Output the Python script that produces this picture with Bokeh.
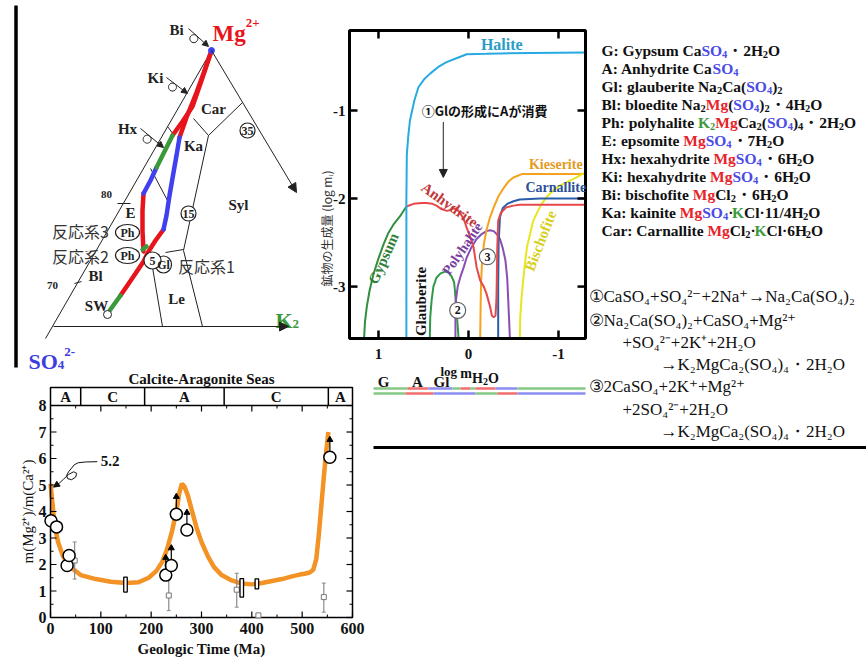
import math
from bokeh.plotting import figure
from bokeh.models import Range1d, Arrow, NormalHead, ColumnDataSource
from bokeh.embed import file_html
from bokeh.resources import INLINE
from bokeh.core.properties import value

SERIF = "Liberation Serif"
CJK = "Noto Sans CJK JP"

# ===================== DATA: evaporation model (log m_H2O vs log m_i) =====================
LOGM_TICKS = [1, 0, -1]
LOGM_TICK_LABELS = ["1", "0", "-1"]
LOGMI_TICKS = [-1, -2, -3]
LOGMI_TICK_LABELS = ["-1", "-2", "-3"]
HALITE_X = [0.69, 0.69, 0.685, 0.67, 0.65, 0.60, 0.556, 0.49, 0.426, 0.33, 0.244, 0.12, 0.02, -0.2, -0.36, -0.7, -1.30]
HALITE_Y = [-3.6, -2.0, -1.5, -1.3, -1.11, -0.88, -0.735, -0.64, -0.58, -0.5, -0.45, -0.4, -0.36, -0.355, -0.35, -0.345, -0.34]
GYPSUM_X = [1.16, 1.15, 1.13, 1.10, 1.056, 1.0, 0.944, 0.89, 0.83, 0.76, 0.69]
GYPSUM_Y = [-3.59, -3.4, -3.23, -3.05, -2.86, -2.68, -2.52, -2.39, -2.29, -2.2, -2.09]
ANHYD_X = [0.69, 0.61, 0.52, 0.47, 0.40, 0.356, 0.30, 0.24, 0.20, 0.167, 0.12, 0.09, 0.05, 0.02, -0.02, -0.056,
           -0.09, -0.13, -0.17, -0.2, -0.24, -0.26, -0.28, -0.30, -0.31, -0.315, -0.32, -0.33, -0.36, -0.42, -0.5,
           -0.57, -0.8, -1.30]
ANHYD_Y = [-2.09, -2.06, -2.05, -2.05, -2.06, -2.08, -2.12, -2.14, -2.13, -2.11, -2.13, -2.17, -2.24, -2.33, -2.44,
           -2.55, -2.78, -2.93, -3.0, -3.08, -3.23, -3.33, -3.35, -3.33, -3.16, -2.9, -2.55, -2.25, -2.16, -2.1,
           -2.08, -2.07, -2.07, -2.07]
CARN_X = [-0.33, -0.33, -0.335, -0.35, -0.38, -0.43, -0.5, -0.57, -0.8, -1.30]
CARN_Y = [-3.59, -3.0, -2.5, -2.21, -2.11, -2.06, -2.03, -2.01, -2.0, -2.0]
KIES_X = [-0.13, -0.135, -0.14, -0.15, -0.17, -0.2, -0.24, -0.28, -0.33, -0.39, -0.45, -0.5, -0.6, -0.8, -1.30]
KIES_Y = [-3.59, -3.2, -2.95, -2.74, -2.52, -2.36, -2.21, -2.1, -1.98, -1.88, -1.8, -1.76, -1.72, -1.72, -1.72]
BISCH_X = [-0.57, -0.575, -0.59, -0.62, -0.65, -0.72, -0.8, -0.87, -0.95, -1.02, -1.1, -1.2, -1.30]
BISCH_Y = [-3.59, -3.35, -3.12, -2.8, -2.55, -2.25, -2.08, -1.98, -1.9, -1.85, -1.81, -1.76, -1.7]
GLAUB_X = [0.43, 0.425, 0.41, 0.39, 0.356, 0.31, 0.26, 0.22, 0.19, 0.16, 0.15, 0.14, 0.13, 0.12, 0.11]
GLAUB_Y = [-3.59, -3.35, -3.16, -3.0, -2.9, -2.85, -2.83, -2.84, -2.88, -2.95, -3.05, -3.2, -3.31, -3.45, -3.59]
POLY_X = [0.145, 0.145, 0.14, 0.12, 0.09, 0.05, 0.02, -0.03, -0.09, -0.15, -0.2, -0.24, -0.28, -0.32, -0.35,
          -0.38, -0.41, -0.43, -0.44, -0.45, -0.46]
POLY_Y = [-3.59, -3.35, -3.16, -3.0, -2.89, -2.77, -2.67, -2.56, -2.46, -2.4, -2.37, -2.36, -2.37, -2.41, -2.46,
          -2.56, -2.7, -2.9, -3.12, -3.35, -3.59]
# mineral sequence bars below the chart (log m_H2O breakpoints)
SEQ1_BREAKS = [1.055, 0.678, 0.444, 0.178, 0.089, -0.022, -0.078, -0.30, -0.544, -1.30]
SEQ1_KEYS = ["G", "A", "Gl", "G", "A", "G", "A", "Gl", "G"]
SEQ2_BREAKS = [1.055, 0.70, 0.389, -0.078, -0.322, -0.544, -1.30]
SEQ2_KEYS = ["G", "A", "Gl", "G", "A", "Gl"]
SEQ_LABELS = ["G", "A", "Gl"]
SEQ_LABEL_X = [0.944, 0.567, 0.30]

# ===================== DATA: Mg/Ca of seawater =====================
AGE_TICKS = [0, 100, 200, 300, 400, 500, 600]
AGE_TICK_LABELS = ["0", "100", "200", "300", "400", "500", "600"]
RATIO_TICKS = [0, 1, 2, 3, 4, 5, 6, 7, 8]
RATIO_TICK_LABELS = ["0", "1", "2", "3", "4", "5", "6", "7", "8"]
AGE_MA = [0, 4, 8, 15, 25, 40, 60, 90, 120, 150, 175, 195, 210, 222, 232, 242, 250, 256, 261, 266, 273, 280, 290,
          300, 313, 325, 340, 360, 380, 400, 420, 440, 460, 480, 495, 505, 515, 522, 528, 533, 538, 543, 548, 552]
MGCA = [5.05, 4.3, 3.5, 2.85, 2.3, 1.9, 1.6, 1.45, 1.35, 1.3, 1.33, 1.5, 1.75, 2.1, 2.6, 3.3, 4.0, 4.7, 5.05, 4.95,
        4.6, 4.1, 3.4, 2.85, 2.3, 1.9, 1.6, 1.4, 1.28, 1.25, 1.3, 1.38, 1.45, 1.55, 1.62, 1.65, 1.7, 1.8, 2.2, 3.1,
        4.2, 5.3, 6.3, 7.0]
CIRCLE_AGE = [1, 12, 33, 37, 229, 240, 250, 271, 555]
CIRCLE_RATIO = [3.65, 3.42, 1.96, 2.34, 1.6, 1.96, 3.9, 3.3, 6.05]
CIRCLE_MIN_ONLY = [0, 0, 0, 0, 1, 1, 1, 1, 1]
ERR_AGE = [48, 235, 370, 543]
ERR_RATIO = [2.15, 0.83, 1.05, 0.77]
ERR_LO = [1.45, 0.26, 0.39, 0.2]
ERR_HI = [2.85, 1.58, 1.67, 1.3]
LONE_AGE = [413]
LONE_RATIO = [0.08]
FI_AGE = [149, 380, 410]
FI_LO = [0.96, 0.77, 1.08]
FI_HI = [1.52, 1.47, 1.46]
SEA_BORDERS = [0, 60, 187, 345, 552, 600]
SEA_LABELS = ["A", "C", "A", "C", "A"]
NOTE_VALUE = "5.2"
NOTE_X = [93, 70, 55, 47, 42, 36, 32, 34, 42, 50, 52, 46, 36, 26, 18]
NOTE_Y = [5.88, 5.87, 5.84, 5.76, 5.64, 5.5, 5.36, 5.24, 5.2, 5.3, 5.44, 5.5, 5.4, 5.22, 5.08]

# ===================== DATA: ternary diagram (drawing coordinates) =====================
TERN_LINES = [
    [(45, 338), (211, 50)],
    [(208, 135), (183, 250)],
    [(193, 118), (208, 135)],
    [(208, 135), (242, 102)],
    [(165, 252), (183, 249)],
    [(152, 267), (162, 326)],
    [(183, 250), (202, 326)],
    [(167, 126), (173, 134)],
    [(150, 168), (167, 200)],
    [(117, 203), (130, 203)],
    [(74, 283), (81, 281)],
]
PATH_GREEN = [[(107, 313), (120, 295)], [(142, 249), (146, 246)], [(156, 167), (172, 135)]]
PATH_RED = [[(120, 295), (135, 273), (143, 261), (148, 251), (155, 240), (163, 229)],
            [(179, 137), (186, 117), (196, 92), (203, 73), (210, 53)],
            [(143, 251), (142, 230), (142, 210), (143, 193)],
            [(172, 135), (182, 121), (192, 106), (201, 80), (210, 53)]]
PATH_BLUE = [[(163, 229), (166, 215), (169, 195), (173, 172), (176, 155), (179, 137)],
             [(143, 193), (150, 180), (156, 167)]]
FIELD_NAMES = ["Bi", "Ki", "Car", "Hx", "Ka", "Syl", "E", "Bl", "Le", "SW"]
FIELD_X = [176, 155, 213, 127, 193, 238, 130, 95, 176, 96]
FIELD_Y = [29, 77, 108, 128, 145, 204, 212, 275, 298, 305]
CIRCLED = ["35", "15", "Ph", "Ph", "Gl", "5"]
CIRCLED_X = [247, 188, 127, 127, 163, 152]
CIRCLED_Y = [130, 213, 232, 255, 264, 260]
CIRCLED_W = [15, 15, 24, 24, 16, 17]
CIRCLED_H = [15, 15, 16, 16, 17, 17]
CURLS = [((188, 28), (208, 46)), ((166, 77), (187, 93)), ((140, 128), (163, 147))]
SYSTEMS = ["反応系3", "反応系2", "反応系1"]
SYSTEM_X = [80, 80, 206]
SYSTEM_Y = [230, 255, 265]

# ===================== DATA: text panels =====================
LEGEND = [
    [("G: Gypsum Ca", "k", "n"), ("SO", "b", "n"), ("4", "b", "sub"), ("・2H", "k", "n"), ("2", "k", "sub"), ("O", "k", "n")],
    [("A: Anhydrite Ca", "k", "n"), ("SO", "b", "n"), ("4", "b", "sub")],
    [("Gl: glauberite Na", "k", "n"), ("2", "k", "sub"), ("Ca(", "k", "n"), ("SO", "b", "n"), ("4", "b", "sub"),
     (")", "k", "n"), ("2", "k", "sub")],
    [("Bl: bloedite Na", "k", "n"), ("2", "k", "sub"), ("Mg", "r", "n"), ("(", "k", "n"), ("SO", "b", "n"),
     ("4", "b", "sub"), (")", "k", "n"), ("2", "k", "sub"), ("・4H", "k", "n"), ("2", "k", "sub"), ("O", "k", "n")],
    [("Ph: polyhalite ", "k", "n"), ("K", "g", "n"), ("2", "g", "sub"), ("Mg", "r", "n"), ("Ca", "k", "n"),
     ("2", "k", "sub"), ("(", "k", "n"), ("SO", "b", "n"), ("4", "b", "sub"), (")", "k", "n"), ("4", "k", "sub"),
     ("・2H", "k", "n"), ("2", "k", "sub"), ("O", "k", "n")],
    [("E: epsomite ", "k", "n"), ("Mg", "r", "n"), ("SO", "b", "n"), ("4", "b", "sub"), ("・7H", "k", "n"),
     ("2", "k", "sub"), ("O", "k", "n")],
    [("Hx: hexahydrite ", "k", "n"), ("Mg", "r", "n"), ("SO", "b", "n"), ("4", "b", "sub"), ("・6H", "k", "n"),
     ("2", "k", "sub"), ("O", "k", "n")],
    [("Ki: hexahydrite ", "k", "n"), ("Mg", "r", "n"), ("SO", "b", "n"), ("4", "b", "sub"), ("・6H", "k", "n"),
     ("2", "k", "sub"), ("O", "k", "n")],
    [("Bi: bischofite ", "k", "n"), ("Mg", "r", "n"), ("Cl", "k", "n"), ("2", "k", "sub"), ("・6H", "k", "n"),
     ("2", "k", "sub"), ("O", "k", "n")],
    [("Ka: kainite ", "k", "n"), ("Mg", "r", "n"), ("SO", "b", "n"), ("4", "b", "sub"), ("·", "k", "n"),
     ("K", "g", "n"), ("Cl·11/4H", "k", "n"), ("2", "k", "sub"), ("O", "k", "n")],
    [("Car: Carnallite ", "k", "n"), ("Mg", "r", "n"), ("Cl", "k", "n"), ("2", "k", "sub"), ("·", "k", "n"),
     ("K", "g", "n"), ("Cl·6H", "k", "n"), ("2", "k", "sub"), ("O", "k", "n")],
]
REACTIONS = ["①CaSO₄+SO₄²⁻+2Na⁺→Na₂Ca(SO₄)₂",
             "②Na₂Ca(SO₄)₂+CaSO₄+Mg²⁺",
             "+SO₄²⁻+2K⁺+2H₂O",
             "→K₂MgCa₂(SO₄)₄・2H₂O",
             "③2CaSO₄+2K⁺+Mg²⁺",
             "+2SO₄²⁻+2H₂O",
             "→K₂MgCa₂(SO₄)₄・2H₂O"]
REACTION_INDENT = [588, 588, 622, 660, 588, 622, 660]
REACTION_Y = [290, 314, 336, 358, 380, 403, 425]

# ===================== styles / geometry =====================
COL = {"k": "#111111", "r": "#e8232a", "b": "#4b4be6", "g": "#3c9a3c"}
SEQ_COL = {"G": "#86c986", "A": "#f26d6d", "Gl": "#8c8cf0"}
W, H = 866, 660
# plot boxes on the page (pixel left, right, top, bottom) and the data limits they show
MID_BOX = (349, 585, 30, 338)
MID_XR = (1.322, -1.30)
MID_YR = (-3.59, -0.09)
BOT_BOX = (50, 352, 387, 617)
BOT_XR = (0, 600)
BOT_YR = (0, 8.68)

TB = dict(zip("abcdefghijklmnopqrstuvwxyz",
              [500, 556, 444, 556, 444, 333, 500, 556, 278, 333, 556, 278, 833, 556, 500, 556, 556, 444, 389, 333,
               556, 500, 722, 500, 500, 444]))
TB.update(zip("ABCDEFGHIJKLMNOPQRSTUVWXYZ",
              [722, 667, 722, 722, 667, 611, 778, 778, 389, 500, 778, 667, 944, 722, 778, 611, 778, 722, 556, 667,
               722, 722, 1000, 722, 722, 667]))
TB.update({c: 500 for c in "0123456789"})
TB.update({" ": 250, ":": 333, "(": 333, ")": 333, "/": 278, "-": 333, "·": 250, "・": 1000, "+": 570})


def tw(s, size):
    return sum(TB.get(c, 500) for c in s) * size / 1000.0


def txt(p, xs, ys, texts, size, color="black", font=SERIF, style="bold", align="center",
        baseline="middle", angle=0.0, xr=None, yr=None):
    src = ColumnDataSource(dict(x=list(xs), y=list(ys), text=list(texts)))
    kw = {}
    if xr:
        kw["x_range_name"] = xr
    if yr:
        kw["y_range_name"] = yr
    p.text(x="x", y="y", text="text", source=src, text_font=value(font), text_font_size=f"{size}px",
           text_font_style=style, text_color=color, text_align=align, text_baseline=baseline, angle=angle, **kw)


def rich(p, x0, y, segs, size=15.5, sub=10.5):
    x = x0
    groups = {}
    for text, ck, kind in segs:
        s = size if kind == "n" else sub
        yy = y + (4 if kind == "sub" else 0)
        g = groups.setdefault((ck, s), ([], [], []))
        g[0].append(x)
        g[1].append(yy)
        g[2].append(text)
        x += tw(text, s)
    for (ck, s), (xs, ys, ts) in groups.items():
        txt(p, xs, ys, ts, s, color=COL[ck], align="left", baseline="alphabetic")


def curl_points(a, b, r):
    (x0, y0), (x1, y1) = a, b
    dx, dy = x1 - x0, y1 - y0
    L = math.hypot(dx, dy)
    ux, uy = dx / L, dy / L
    nx, ny = -uy, ux
    mx, my = x0 + dx * 0.4, y0 + dy * 0.4
    xs, ys = [x0, mx], [y0, my]
    for k in range(1, 25):
        t = 2 * math.pi * k / 24
        xs.append(mx + r * (math.sin(t) * ux + (1 - math.cos(t)) * nx))
        ys.append(my + r * (math.sin(t) * uy + (1 - math.cos(t)) * ny))
    xs.append(x1)
    ys.append(y1)
    return xs, ys


def head(size=8, c="#222222"):
    return NormalHead(size=size, fill_color=c, line_color=c)


def page_range(p0, p1, v0, v1, lo, hi):
    """Range whose scale puts value v0 at page pixel p0 and v1 at p1 on a page axis spanning lo..hi."""
    k = (v1 - v0) / (p1 - p0)
    return Range1d(v0 + (lo - p0) * k, v0 + (hi - p0) * k)


# ===================== single page canvas =====================
p = figure(width=W, height=H, x_range=Range1d(0, W), y_range=Range1d(H, 0), output_backend="svg",
           toolbar_location=None, x_axis_location=None, y_axis_location=None,
           min_border=0, min_border_left=0, min_border_right=0, min_border_top=0, min_border_bottom=0)
p.grid.visible = False
p.outline_line_color = None
p.background_fill_color = "white"
p.border_fill_color = "white"
ml, mr, mt, mb = MID_BOX
bl, br, bt, bb = BOT_BOX
p.extra_x_ranges = {"mh2o": page_range(ml, mr, MID_XR[0], MID_XR[1], 0, W),
                    "age": page_range(bl, br, BOT_XR[0], BOT_XR[1], 0, W)}
# y pixels grow downwards; ranges run from page bottom (H) to page top (0)
p.extra_y_ranges = {"logmi": page_range(mb, mt, MID_YR[0], MID_YR[1], H, 0),
                    "ratio": page_range(bb, bt, BOT_YR[0], BOT_YR[1], H, 0)}
M = dict(x_range_name="mh2o", y_range_name="logmi")
B = dict(x_range_name="age", y_range_name="ratio")
mpx_x = (MID_XR[0] - MID_XR[1]) / (mr - ml)   # data per pixel
mpx_y = (MID_YR[1] - MID_YR[0]) / (mb - mt)
bpx_x = (BOT_XR[1] - BOT_XR[0]) / (br - bl)
bpx_y = (BOT_YR[1] - BOT_YR[0]) / (bb - bt)

# --- ternary diagram
p.line([15.5, 15.5], [5, 367], line_color="black", line_width=3.5)
p.multi_line([[q[0] for q in l] for l in TERN_LINES], [[q[1] for q in l] for l in TERN_LINES],
             line_color="#222222", line_width=1)
p.add_layout(Arrow(end=head(9), x_start=211, y_start=50, x_end=296, y_end=192, line_color="#222222", line_width=1))
p.add_layout(Arrow(end=head(9), x_start=53, y_start=326, x_end=288, y_end=326, line_color="#222222", line_width=1))
for paths, c in ((PATH_RED, "#e8141c"), (PATH_BLUE, "#4040f0"), (PATH_GREEN, "#3a9a3a")):
    p.multi_line([[q[0] for q in l] for l in paths], [[q[1] for q in l] for l in paths],
                 line_color=c, line_width=4.5, line_cap="round")
p.scatter([211], [50], size=6, color="#4040f0")
p.scatter([107], [314], size=8, fill_color="white", line_color="#222222")
for a, b in CURLS:
    cx, cy = curl_points(a, b, 4)
    p.line(cx[:-1], cy[:-1], line_color="#222222", line_width=1)
    p.add_layout(Arrow(end=head(6), x_start=cx[-2], y_start=cy[-2], x_end=cx[-1], y_end=cy[-1],
                       line_color="#222222", line_width=1))
p.ellipse(CIRCLED_X, CIRCLED_Y, width=CIRCLED_W, height=CIRCLED_H, fill_color="white", line_color="#222222",
          line_width=1.2)
txt(p, CIRCLED_X, CIRCLED_Y, CIRCLED, 12, color="#222222")
txt(p, FIELD_X, FIELD_Y, FIELD_NAMES, 15, color="#222222")
txt(p, [106, 52], [194, 285], ["80", "70"], 11, color="#222222")
txt(p, SYSTEM_X, SYSTEM_Y, SYSTEMS, 16, color="#333333", font=CJK, style="normal")
txt(p, [212], [33], ["Mg"], 23, color="#e8141c", align="left", baseline="alphabetic")
txt(p, [212 + tw("Mg", 23)], [22], ["2+"], 13, color="#e8141c", align="left", baseline="alphabetic")
txt(p, [275], [320], ["K"], 22, color="#3a9a3a", align="left", baseline="alphabetic")
txt(p, [275 + tw("K", 22)], [323], ["2"], 13, color="#3a9a3a", align="left", baseline="alphabetic")
txt(p, [28], [361], ["SO"], 22, color="#3d3de0", align="left", baseline="alphabetic")
txt(p, [28 + tw("SO", 22)], [364], ["4"], 13, color="#3d3de0", align="left", baseline="alphabetic")
txt(p, [28 + tw("SO", 22) + 6.5], [351], ["2-"], 13, color="#3d3de0", align="left", baseline="alphabetic")

# --- mineral legend and reactions
for i, segs in enumerate(LEGEND):
    rich(p, 601, 45 + 18 * i + 5, segs)
for t, x0, y0 in zip(REACTIONS, REACTION_INDENT, REACTION_Y):
    txt(p, [x0], [y0 + 6], [t], 17, color="#111111", style="normal", align="left", baseline="alphabetic")
p.line([373, 866], [447, 447], line_color="black", line_width=3)

# ===================== middle chart (log m_H2O vs log m_i) =====================
x0m, x1m = MID_XR
y0m, y1m = MID_YR
curves = [(GYPSUM_X, GYPSUM_Y, "#2f8f3f"), (GLAUB_X, GLAUB_Y, "#2f9a48"), (POLY_X, POLY_Y, "#8a4fb5"),
          (KIES_X, KIES_Y, "#f6a21c"), (BISCH_X, BISCH_Y, "#e8e620"), (CARN_X, CARN_Y, "#2b5ea8"),
          (ANHYD_X, ANHYD_Y, "#e8474a"), (HALITE_X, HALITE_Y, "#27aae1")]
for xs, ys, c in curves:
    p.line(xs, ys, line_color=c, line_width=2, **M)
p.quad(left=[x0m], right=[x1m], bottom=[y0m], top=[y1m], fill_color=None, line_color="black", line_width=3, **M)
tl = 8
p.segment(x0=LOGM_TICKS, y0=[y0m] * 3, x1=LOGM_TICKS, y1=[y0m + tl * mpx_y] * 3, line_color="black",
          line_width=2.5, **M)
p.segment(x0=LOGM_TICKS, y0=[y1m] * 3, x1=LOGM_TICKS, y1=[y1m - tl * mpx_y] * 3, line_color="black",
          line_width=2.5, **M)
p.segment(x0=[x0m] * 3, y0=LOGMI_TICKS, x1=[x0m - tl * mpx_x] * 3, y1=LOGMI_TICKS, line_color="black",
          line_width=2.5, **M)
p.segment(x0=[x1m] * 3, y0=LOGMI_TICKS, x1=[x1m + tl * mpx_x] * 3, y1=LOGMI_TICKS, line_color="black",
          line_width=2.5, **M)
txt(p, LOGM_TICKS, [y0m - 15 * mpx_y] * 3, LOGM_TICK_LABELS, 15, color="#111111", xr="mh2o", yr="logmi")
txt(p, [x0m + 4 * mpx_x] * 3, LOGMI_TICKS, LOGMI_TICK_LABELS, 15, color="#111111", align="right",
    xr="mh2o", yr="logmi")
txt(p, [x0m + 23 * mpx_x], [(y0m + y1m) / 2 - 0.5], ["鉱物の生成量 (log mᵢ)"], 12, color="#333333", font=CJK,
    style="normal", angle=math.pi / 2, xr="mh2o", yr="logmi")
lx = 440
txt(p, [lx], [371], ["log"], 13, color="#111111", align="left", baseline="alphabetic")
txt(p, [lx + tw("log ", 13)], [373], ["m"], 14, color="#111111", align="left", baseline="alphabetic")
hx = lx + tw("log ", 13) + tw("m", 14)
txt(p, [hx], [378], ["H"], 14, color="#111111", align="left", baseline="alphabetic")
txt(p, [hx + tw("H", 14)], [381], ["2"], 10, color="#111111", align="left", baseline="alphabetic")
txt(p, [hx + tw("H", 14) + 5], [378], ["O"], 14, color="#111111", align="left", baseline="alphabetic")

txt(p, [-0.37], [-0.25], ["Halite"], 16, color="#2a9cc8", xr="mh2o", yr="logmi")
txt(p, [-0.97], [-1.61], ["Kieserite"], 14, color="#e39b1f", xr="mh2o", yr="logmi")
txt(p, [-0.97], [-1.875], ["Carnallite"], 14, color="#2b4f9a", xr="mh2o", yr="logmi")
txt(p, [0.21], [-2.07], ["Anhydrite"], 15, color="#c0393b", angle=-0.62, xr="mh2o", yr="logmi")
txt(p, [0.944], [-2.68], ["Gypsum"], 15, color="#2f7f3a", angle=1.15, xr="mh2o", yr="logmi")
txt(p, [0.53], [-3.17], ["Glauberite"], 15, color="#111111", angle=math.pi / 2, xr="mh2o", yr="logmi")
txt(p, [0.067], [-2.57], ["Polyhalite"], 14, color="#7a3d9e", angle=0.97, xr="mh2o", yr="logmi")
txt(p, [-0.8], [-2.48], ["Bischofite"], 15, color="#d8cf1f", angle=1.2, xr="mh2o", yr="logmi")
p.scatter([-0.21, 0.12], [-2.66, -3.27], size=16, fill_color="white", line_color="#666666", line_width=1.2, **M)
txt(p, [-0.21, 0.12], [-2.66, -3.27], ["3", "2"], 12, color="#111111", xr="mh2o", yr="logmi")
txt(p, [0.52], [-1.0], ["①Glの形成にAが消費"], 13, color="#111111", font=CJK, align="left", xr="mh2o", yr="logmi")
p.add_layout(Arrow(end=head(8), x_start=0.28, y_start=-1.13, x_end=0.28, y_end=-1.76, line_color="#222222",
                   line_width=1, **M))
# sequence bars below the chart
for breaks, keys, yy in ((SEQ1_BREAKS, SEQ1_KEYS, 388), (SEQ2_BREAKS, SEQ2_KEYS, 393)):
    p.multi_line([[breaks[i], breaks[i + 1]] for i in range(len(keys))], [[yy, yy]] * len(keys),
                 line_color=[SEQ_COL[k] for k in keys], line_width=2.5, x_range_name="mh2o")
txt(p, SEQ_LABEL_X, [381] * 3, SEQ_LABELS, 15, color="#111111", xr="mh2o")

# ===================== bottom chart (Mg/Ca through time) =====================
x0b, x1b = BOT_XR
y0b, y1b = BOT_YR
age_minor = [a + 50 for a in AGE_TICKS[:-1]]
ratio_minor = [r + 0.5 for r in RATIO_TICKS[:-1]]
p.line(AGE_MA, MGCA, line_color="#f39325", line_width=4.5, **B)
p.quad(left=[x0b], right=[x1b], bottom=[y0b], top=[y1b], fill_color=None, line_color="black", line_width=1.5, **B)
# inward ticks: bottom, left, right, and below the sea-type band
p.segment(x0=AGE_TICKS, y0=[y0b] * 7, x1=AGE_TICKS, y1=[y0b + 6 * bpx_y] * 7, line_color="black", line_width=1.2, **B)
p.segment(x0=age_minor, y0=[y0b] * 6, x1=age_minor, y1=[y0b + 3 * bpx_y] * 6, line_color="black", line_width=1, **B)
p.segment(x0=AGE_TICKS[1:-1], y0=[8] * 5, x1=AGE_TICKS[1:-1], y1=[8 - 6 * bpx_y] * 5, line_color="black",
          line_width=1.2, **B)
p.segment(x0=age_minor, y0=[8] * 6, x1=age_minor, y1=[8 - 3 * bpx_y] * 6, line_color="black", line_width=1, **B)
for xe, sgn in ((x0b, 1), (x1b, -1)):
    p.segment(x0=[xe] * 9, y0=RATIO_TICKS, x1=[xe + sgn * 6 * bpx_x] * 9, y1=RATIO_TICKS, line_color="black",
              line_width=1.2, **B)
    p.segment(x0=[xe] * 8, y0=ratio_minor, x1=[xe + sgn * 3 * bpx_x] * 8, y1=ratio_minor, line_color="black",
              line_width=1, **B)
txt(p, AGE_TICKS, [y0b - 11 * bpx_y] * 7, AGE_TICK_LABELS, 16, color="#111111", xr="age", yr="ratio")
txt(p, [x0b - 4 * bpx_x] * 9, RATIO_TICKS, RATIO_TICK_LABELS, 16, color="#111111", align="right", xr="age",
    yr="ratio")
txt(p, [300], [y0b - 31 * bpx_y], ["Geologic Time (Ma)"], 15, color="#111111", xr="age", yr="ratio")
txt(p, [x0b - 23 * bpx_x], [4.0], ["m(Mg²⁺)/m(Ca²⁺)"], 15, color="#111111", style="normal", angle=math.pi / 2,
    xr="age", yr="ratio")
txt(p, [300], [y1b + 9 * bpx_y], ["Calcite-Aragonite Seas"], 15, color="#111111", xr="age", yr="ratio")
# sea-type band
p.segment(x0=[x0b], y0=[8], x1=[x1b], y1=[8], line_color="black", line_width=1.5, **B)
p.segment(x0=SEA_BORDERS[1:-1], y0=[8] * 4, x1=SEA_BORDERS[1:-1], y1=[y1b] * 4, line_color="black",
          line_width=1.5, **B)
mids = [(a + b) / 2 for a, b in zip(SEA_BORDERS[:-1], SEA_BORDERS[1:])]
txt(p, mids, [(8 + y1b) / 2] * len(mids), SEA_LABELS, 15, color="#111111", xr="age", yr="ratio")
# data marks
p.segment(x0=ERR_AGE, y0=ERR_LO, x1=ERR_AGE, y1=ERR_HI, line_color="#8a8a8a", line_width=1.2, **B)
p.segment(x0=[a - 4 for a in ERR_AGE], y0=ERR_LO, x1=[a + 4 for a in ERR_AGE], y1=ERR_LO, line_color="#8a8a8a", **B)
p.segment(x0=[a - 4 for a in ERR_AGE], y0=ERR_HI, x1=[a + 4 for a in ERR_AGE], y1=ERR_HI, line_color="#8a8a8a", **B)
p.scatter(ERR_AGE + LONE_AGE, ERR_RATIO + LONE_RATIO, marker="square", size=5, fill_color="white",
          line_color="#777777", **B)
p.quad(left=[a - 3.5 for a in FI_AGE], right=[a + 3.5 for a in FI_AGE], bottom=FI_LO, top=FI_HI,
       fill_color="white", line_color="black", line_width=1.3, **B)
p.scatter(CIRCLE_AGE, CIRCLE_RATIO, size=12, fill_color="white", line_color="black", line_width=1.5, **B)
ua = [a for a, m in zip(CIRCLE_AGE, CIRCLE_MIN_ONLY) if m]
ur = [r for r, m in zip(CIRCLE_RATIO, CIRCLE_MIN_ONLY) if m]
p.segment(x0=ua, y0=[r + 0.22 for r in ur], x1=ua, y1=[r + 0.62 for r in ur], line_color="black", line_width=1.2, **B)
p.scatter(ua, [r + 0.66 for r in ur], marker="triangle", size=6, color="black", **B)
txt(p, [100], [5.89], [NOTE_VALUE], 15, color="#111111", align="left", xr="age", yr="ratio")
p.line(NOTE_X, NOTE_Y, line_color="#111111", line_width=1, **B)
p.add_layout(Arrow(end=head(6, "#111111"), x_start=NOTE_X[-1], y_start=NOTE_Y[-1], x_end=6, y_end=4.92,
                   line_color="#111111", line_width=1, **B))

open("out.html", "w").write(file_html(p, INLINE))
